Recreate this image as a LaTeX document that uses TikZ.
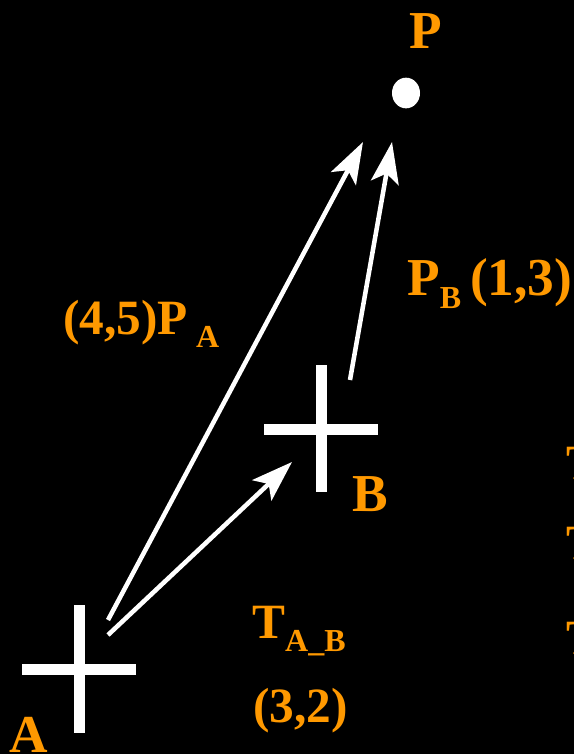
\documentclass[tikz,border=0pt]{standalone}
\usepackage{fontspec}
\setmainfont{Liberation Serif}
\usetikzlibrary{arrows.meta,shapes.geometric}
\definecolor{lblorange}{HTML}{FF9900}
\newcommand{\lowsub}[1]{\raisebox{-10pt}{\fontsize{24}{24}\selectfont #1}}
\tikzset{
  lbl/.style={text=lblorange, inner sep=0pt, font=\bfseries\fontsize{37}{40}\selectfont},
  biglbl/.style={lbl, font=\bfseries\fontsize{40}{44}\selectfont},
  bar/.style={white, line width=8.25pt},
  vec/.style={white, line width=3.4pt, -{Stealth[length=31pt,width=21pt,inset=7pt]}}
}

\begin{document}
\begin{tikzpicture}[x=0.75pt,y=-0.75pt]
  \fill[black] (0,0) rectangle (574,754);
  \clip (0,0) rectangle (574,754);

  % point P
  \node[ellipse, fill=white, inner sep=0pt, minimum width=21pt, minimum height=23pt] (P) at (406,93) {};
  \node[biglbl, anchor=base] (Plbl) at (426,48) {P};

  % frames A and B
  \coordinate (A) at (79.5,669.5);
  \coordinate (B) at (321,429);
  \draw[bar] (79.5,605) -- (79.5,733);
  \draw[bar] (22,669.5) -- (136,669.5);
  \draw[bar] (321,365) -- (321,492);
  \draw[bar] (264,429) -- (378,429);
  \node[biglbl, anchor=base west] (Albl) at (9,752) {A};
  \node[biglbl, anchor=base west] (Blbl) at (352,511) {B};

  % vectors
  \coordinate (A-toP) at (108,620);
  \coordinate (A-toB) at (108,635);
  \coordinate (B-toP) at (350,380);
  \coordinate (P-fromA) at (363,142);
  \coordinate (P-fromB) at (392,142);
  \coordinate (B-fromA) at (292,462);
  \draw[vec] (A-toP) -- (P-fromA);
  \draw[vec] (A-toB) -- (B-fromA);
  \draw[vec] (B-toP) -- (P-fromB);

  % labels
  \node[lbl, anchor=base west] (PA) at (63,334) {(4,5)P\,\lowsub{A}};
  \node[biglbl, anchor=base west] (PB) at (407,295) {P\lowsub{B}\,(1,3)};
  \node[lbl, anchor=base west] (TAB) at (252,638) {T\lowsub{A\_B}};
  \node[lbl, anchor=base west] (TABval) at (253,722) {(3,2)};

  % cut off at the right edge
  \node[lbl, anchor=base west] (T1) at (566,479) {T};
  \node[lbl, anchor=base west] (T2) at (566,559) {T};
  \node[lbl, anchor=base west] (T3) at (566,654) {T};
\end{tikzpicture}
\end{document}
